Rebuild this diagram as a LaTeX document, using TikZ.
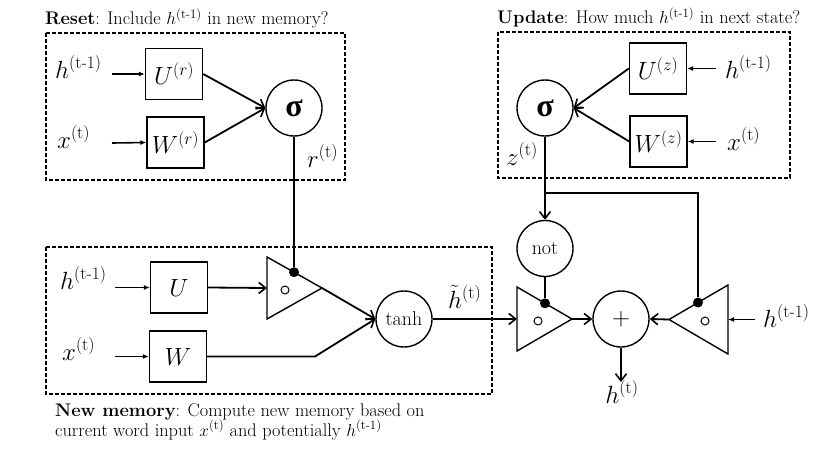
\documentclass[tikz,border=0pt]{standalone}
\usepackage{amsmath}
\usepackage{fontspec}
\newfontfamily\sigfont{Liberation Serif}
\usetikzlibrary{arrows.meta}
\begin{document}
\begin{tikzpicture}[x=1pt,y=-1pt,
  box/.style={draw, line width=1.4pt, minimum width=57pt, minimum height=51pt, inner sep=0pt, font=\fontsize{25}{30}\selectfont},
  op/.style={draw, circle, line width=1.4pt, minimum size=56pt, inner sep=0pt},
  conn/.style={line width=1.8pt},
  arr/.style={conn, -{Straight Barb[length=7pt,width=11pt,line width=1.6pt]}},
  inarr/.style={line width=1.6pt, -{Latex[length=6pt,width=5pt]}},
  grp/.style={draw, line width=1.1pt, dash pattern=on 4pt off 2pt},
  lbl/.style={font=\fontsize{25}{30}\selectfont, inner sep=0pt, anchor=base west},
  ttl/.style={font=\fontsize{18.3}{20}\selectfont, inner sep=0pt, anchor=base west},
  gate/.style={draw, line width=1.4pt, line join=miter},
  gdot/.style={circle, fill, inner sep=0pt, minimum size=10pt},
  gcirc/.style={circle, draw, line width=1pt, inner sep=0pt, minimum size=8pt},
  sig/.style={font=\sigfont\bfseries\fontsize{32}{32}\selectfont},
  optxt/.style={font=\fontsize{20}{24}\selectfont}
]
\useasboundingbox (0,0) rectangle (829,452);

% group boxes
\draw[grp] (46,33) rectangle (345,180);
\draw[grp] (498,32) rectangle (790,178);
\draw[grp] (46,247) rectangle (492,394);

% titles
\node[ttl] (tr) at (45,25) {\textbf{Reset}: Include $h^{\text{(t-1)}}$ in new memory?};
\node[ttl] (tu) at (497,24) {\textbf{Update}: How much $h^{\text{(t-1)}}$ in next state?};
\node[ttl] (tn1) at (55,416) {\textbf{New memory}: Compute new memory based on};
\node[ttl] (tn2) at (55,436) {current word input $x^{\text{(t)}}$ and potentially $h^{\text{(t-1)}}$};

% reset gate
\node[lbl] (hr) at (55,78) {$h^{\text{(t-1)}}$};
\node[lbl] (xr) at (57,148) {$x^{\text{(t)}}$};
\node[box] (Ur) at (174,74) {$U^{(r)}$};
\node[box] (Wr) at (175.5,142.5) {$W^{(r)}$};
\node[op,sig] (sr) at (294,108) {σ};
\node[lbl] (rl) at (307,167) {$r^{\text{(t)}}$};
\coordinate (hrs) at (112,74);
\coordinate (xrs) at (112,143);

% update gate
\node[lbl] (hu) at (725,78) {$h^{\text{(t-1)}}$};
\node[lbl] (xu) at (727,150) {$x^{\text{(t)}}$};
\node[box] (Uz) at (658,68.5) {$U^{(z)}$};
\node[box] (Wz) at (658.5,141.5) {$W^{(z)}$};
\node[op,sig] (sz) at (545,108) {σ};
\node[lbl] (zl) at (506,165) {$z^{\text{(t)}}$};
\coordinate (hus) at (716,68.5);
\coordinate (xus) at (716,141.5);

% new memory
\node[lbl] (hn) at (60,289) {$h^{\text{(t-1)}}$};
\node[lbl] (xn) at (62,360) {$x^{\text{(t)}}$};
\node[box] (Un) at (179,287.5) {$U$};
\node[box] (Wn) at (178,356.5) {$W$};
\node[op,optxt] (tanh) at (404,319) {tanh};
\node[lbl] (htl) at (448,308) {$\tilde{h}^{\text{(t)}}$};
\coordinate (hns) at (115,287.5);
\coordinate (xns) at (115,356.5);
\coordinate (wk) at (315,356.5);

% gate 1 (reset multiply)
\draw[gate] (267,257) -- (322,288) -- (267,319) -- cycle;
\coordinate (g1in) at (267,288);
\coordinate (g1out) at (322,288);
\node[gdot] (g1dot) at (294,272.2) {};
\node[gcirc] (g1c) at (285,290) {};

% gate 2 (1-z multiply)
\draw[gate] (517,287) -- (572,319) -- (517,351) -- cycle;
\coordinate (g2in) at (517,319);
\coordinate (g2out) at (572,319);
\node[gdot] (g2dot) at (545,303.3) {};
\node[gcirc] (g2c) at (538,321) {};

% gate 3 (z multiply)
\draw[gate] (728,285) -- (669,319.5) -- (728,354) -- cycle;
\coordinate (g3in) at (728,319.5);
\coordinate (g3out) at (669,319.5);
\node[gdot] (g3dot) at (698,302.5) {};
\node[gcirc] (g3c) at (705,321) {};

% not, plus, output
\node[op,optxt] (not) at (545,248.5) {not};
\node[op,font=\fontsize{26}{30}\selectfont] (plus) at (621,319) {$+$};
\node[lbl,anchor=base] (hout) at (622,403) {$h^{\text{(t)}}$};
\node[lbl] (hg3) at (763,327) {$h^{\text{(t-1)}}$};
\coordinate (hg3s) at (755,319.5);
\coordinate (ho) at (621,382);
\coordinate (zj) at (545,193);
\coordinate (zr) at (698,193);

% connectors reset
\draw[inarr] (hrs) -- (Ur.west);
\draw[inarr] (xrs) -- (Wr.west);
\draw[arr] (Ur.east) -- (sr.west);
\draw[arr] (Wr.east) -- (sr.west);
\draw[conn] (sr.south) -- (g1dot);

% connectors update
\draw[inarr] (hus) -- (Uz.east);
\draw[inarr] (xus) -- (Wz.east);
\draw[arr] (Uz.west) -- (sz.east);
\draw[arr] (Wz.west) -- (sz.east);
\draw[conn] (sz.south) -- (zj);
\draw[arr] (zj) -- (not.north);
\draw[conn] (zj) -- (zr) -- (g3dot);

% connectors new memory
\draw[inarr] (hns) -- (Un.west);
\draw[inarr] (xns) -- (Wn.west);
\draw[arr] (Un.east) -- (g1in);
\draw[arr] (g1out) -- (tanh.west);
\draw[arr] (Wn.east) -- (wk) -- (tanh.west);

% output part
\draw[arr] (tanh.east) -- (g2in);
\draw[conn] (not.south) -- (g2dot);
\draw[arr] (g2out) -- (plus.west);
\draw[arr] (g3out) -- (plus.east);
\draw[inarr] (hg3s) -- (g3in);
\draw[arr] (plus.south) -- (ho);
\end{tikzpicture}
\end{document}
